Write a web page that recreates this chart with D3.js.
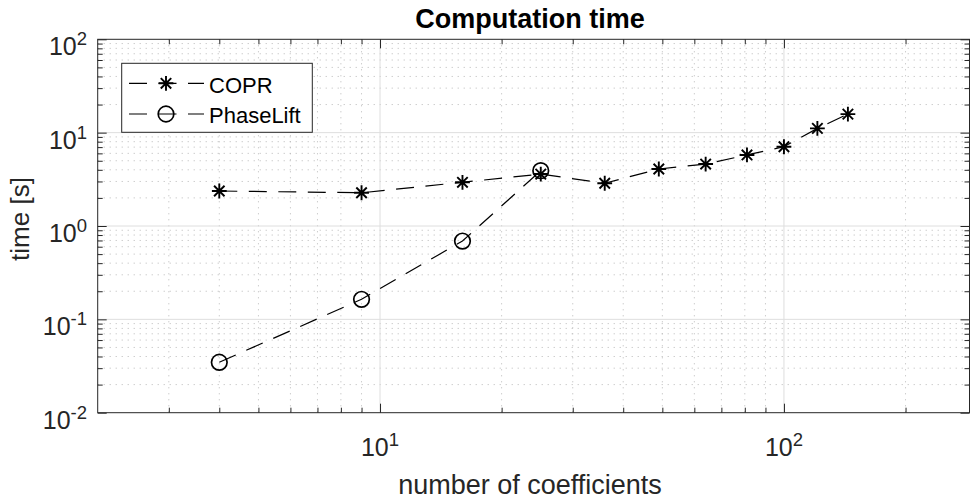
<!DOCTYPE html>
<html>
<head>
<meta charset="utf-8">
<script src="https://cdn.jsdelivr.net/npm/d3@7"></script>
<style>
  body { margin: 0; background: #fff; }
  svg text { font-family: "Liberation Sans", Arial, Helvetica, sans-serif; }
</style>
</head>
<body>
<div id="chart"></div>
<script>
// data
const nCoeff = [4, 9, 16, 25, 36, 49, 64, 81, 100, 121, 144];
const coprTime = [2.37, 2.27, 2.94, 3.6, 2.87, 4.08, 4.61, 5.77, 7.06, 11.1, 15.8];
const phaseLiftN = [4, 9, 16, 25];
const phaseLiftTime = [0.0347, 0.164, 0.69, 3.91];
const seriesNames = ["COPR", "PhaseLift"];
const xMajor = [10, 100];
const yMajor = [0.01, 0.1, 1, 10, 100];

var width = 975,
  height = 503;
var margin = {top: 39.3, right: 5.5, bottom: 90.3, left: 97.7};
var axisColor = "#262626";

const x = d3.scaleLog().domain([2, 288]).range([margin.left, width - margin.right]);
const y = d3.scaleLog().domain([0.01, 100]).range([height - margin.bottom, margin.top]);

// minor positions 2..9 per decade, inside the domain
function minorTicks(scale) {
  const [a, b] = scale.domain();
  const out = [];
  for (let e = Math.floor(Math.log10(a)); e <= Math.ceil(Math.log10(b)); e++) {
    for (let k = 2; k <= 9; k++) {
      const v = k * Math.pow(10, e);
      if (v > a * 1.0001 && v < b * 0.9999) out.push(v);
    }
  }
  return out;
}
const xMinor = minorTicks(x);
const yMinor = minorTicks(y);

const svg = d3.select("#chart")
  .append("svg")
  .attr("width", width)
  .attr("height", height);

const x0 = margin.left, x1 = width - margin.right;
const y0 = margin.top, y1 = height - margin.bottom;

// grid
const grid = svg.append("g");
grid.selectAll(".gxm").data(xMinor).join("line")
  .attr("class", "gxm")
  .attr("x1", d => x(d)).attr("x2", d => x(d))
  .attr("y1", y0).attr("y2", y1)
  .attr("stroke", "#b8b8b8").attr("stroke-dasharray", "1,5");
grid.selectAll(".gym").data(yMinor).join("line")
  .attr("class", "gym")
  .attr("y1", d => y(d)).attr("y2", d => y(d))
  .attr("x1", x0).attr("x2", x1)
  .attr("stroke", "#b8b8b8").attr("stroke-dasharray", "1,5");
grid.selectAll(".gx").data(xMajor).join("line")
  .attr("class", "gx")
  .attr("x1", d => x(d)).attr("x2", d => x(d))
  .attr("y1", y0).attr("y2", y1)
  .attr("stroke", "#dedede");
grid.selectAll(".gy").data(yMajor.slice(1, -1)).join("line")
  .attr("class", "gy")
  .attr("y1", d => y(d)).attr("y2", d => y(d))
  .attr("x1", x0).attr("x2", x1)
  .attr("stroke", "#dedede");

// inward ticks on all four sides
function ticks(axis, tr, vals, len) {
  svg.append("g")
    .attr("transform", tr)
    .call(axis.tickValues(vals).tickSize(-len).tickSizeOuter(0).tickFormat(""))
    .call(g => g.select(".domain").remove())
    .selectAll("line").attr("stroke", axisColor);
}
ticks(d3.axisBottom(x), `translate(0,${y1})`, xMajor, 9);
ticks(d3.axisBottom(x), `translate(0,${y1})`, xMinor, 5);
ticks(d3.axisTop(x), `translate(0,${y0})`, xMajor, 9);
ticks(d3.axisTop(x), `translate(0,${y0})`, xMinor, 5);
ticks(d3.axisLeft(y), `translate(${x0},0)`, yMajor, 9);
ticks(d3.axisLeft(y), `translate(${x0},0)`, yMinor, 5);
ticks(d3.axisRight(y), `translate(${x1},0)`, yMajor, 9);
ticks(d3.axisRight(y), `translate(${x1},0)`, yMinor, 5);

svg.append("rect")
  .attr("x", x0).attr("y", y0)
  .attr("width", x1 - x0).attr("height", y1 - y0)
  .attr("fill", "none").attr("stroke", axisColor).attr("stroke-width", 1);

// tick labels 10^n
function powLabel(sel, v) {
  const e = Math.round(Math.log10(v));
  sel.append("tspan").text("10");
  sel.append("tspan").attr("dy", -10).attr("font-size", 18.5).text(e);
}
svg.append("g").selectAll("text").data(yMajor).join("text")
  .attr("x", 87).attr("y", d => y(d) + 16)
  .attr("text-anchor", "end")
  .attr("font-size", 25).attr("fill", axisColor)
  .each(function(d) { powLabel(d3.select(this), d); });
svg.append("g").selectAll("text").data(xMajor).join("text")
  .attr("x", d => x(d)).attr("y", y1 + 43)
  .attr("text-anchor", "middle")
  .attr("font-size", 25).attr("fill", axisColor)
  .each(function(d) { powLabel(d3.select(this), d); });

// title and axis labels
svg.append("text")
  .attr("x", 530).attr("y", 28)
  .attr("text-anchor", "middle")
  .attr("font-size", 27).attr("font-weight", "bold").attr("fill", "#000")
  .text("Computation time");
svg.append("text")
  .attr("x", 530).attr("y", 494)
  .attr("text-anchor", "middle")
  .attr("font-size", 27).attr("fill", axisColor)
  .text("number of coefficients");
svg.append("text")
  .attr("transform", `translate(29,219) rotate(-90)`)
  .attr("text-anchor", "middle")
  .attr("font-size", 26).attr("fill", axisColor)
  .text("time [s]");

// markers
function star(g, s) {
  const d = s * 0.707;
  g.append("path")
    .attr("d", `M${-s},0H${s}M0,${-s}V${s}M${-d},${-d}L${d},${d}M${-d},${d}L${d},${-d}`)
    .attr("stroke", "#000").attr("stroke-width", 1.9).attr("fill", "none");
}
function ring(g, r) {
  g.append("circle").attr("r", r)
    .attr("stroke", "#000").attr("stroke-width", 1.7).attr("fill", "none");
}

const line = d3.line().x(d => x(d[0])).y(d => y(d[1]));
const copr = d3.zip(nCoeff, coprTime);
const plift = d3.zip(phaseLiftN, phaseLiftTime);

svg.append("path").datum(copr)
  .attr("d", line).attr("fill", "none")
  .attr("stroke", "#000").attr("stroke-width", 1.2)
  .attr("stroke-dasharray", "18,11.5");
svg.append("g").selectAll("g").data(copr).join("g")
  .attr("transform", d => `translate(${x(d[0])},${y(d[1])})`)
  .each(function() { star(d3.select(this), 7.4); });

svg.append("path").datum(plift)
  .attr("d", line).attr("fill", "none")
  .attr("stroke", "#000").attr("stroke-width", 1.2)
  .attr("stroke-dasharray", "18,11.5");
svg.append("g").selectAll("g").data(plift).join("g")
  .attr("transform", d => `translate(${x(d[0])},${y(d[1])})`)
  .each(function() { ring(d3.select(this), 7.8); });

// legend
const legend = svg.append("g");
legend.append("rect")
  .attr("x", 121.7).attr("y", 63.3).attr("width", 190.6).attr("height", 69)
  .attr("fill", "#fff").attr("stroke", axisColor).attr("stroke-width", 1);
const rows = legend.selectAll("g").data(seriesNames).join("g")
  .attr("transform", (d, i) => `translate(0,${83.3 + i * 30.7})`);
rows.append("line")
  .attr("x1", 129).attr("x2", 204)
  .attr("stroke", "#000").attr("stroke-width", 1.2)
  .attr("stroke-dasharray", "18,11.5");
rows.append("g").attr("transform", "translate(166,0)")
  .each(function(d, i) { i === 0 ? star(d3.select(this), 7.4) : ring(d3.select(this), 7.8); });
rows.append("text")
  .attr("x", 209).attr("y", 9.3)
  .attr("font-size", 22).attr("fill", "#000")
  .text(d => d);
</script>
</body>
</html>
